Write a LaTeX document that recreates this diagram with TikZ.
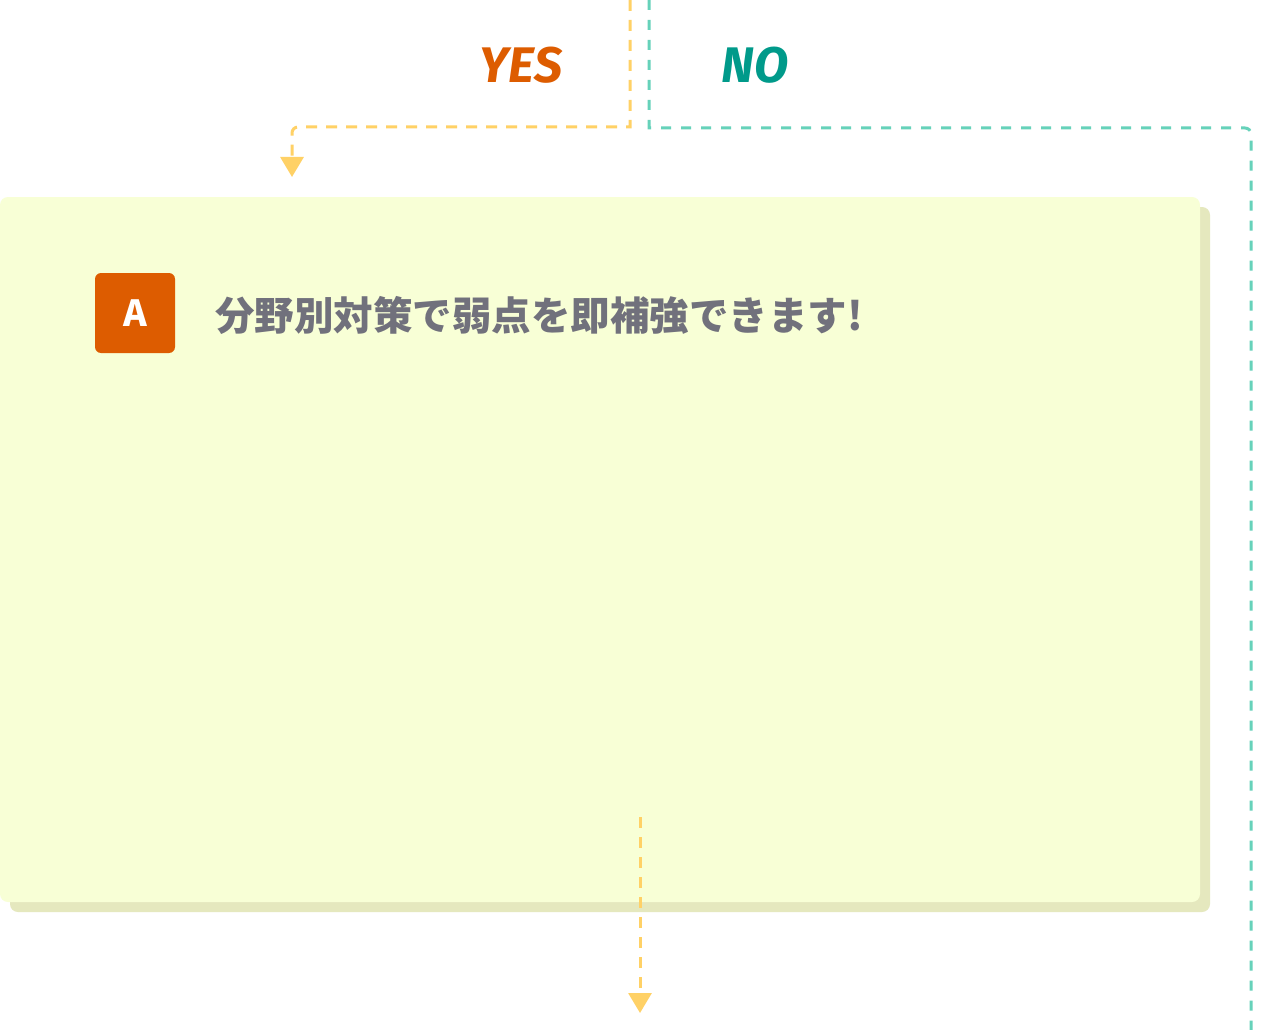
\documentclass[tikz,border=0pt]{standalone}
\usepackage{fontspec}
\setmainfont{Fira Sans}
\newfontfamily\jpfont{Noto Sans CJK JP}
\usetikzlibrary{arrows.meta}
\definecolor{cardbg}{HTML}{F8FFD6}
\definecolor{cardsh}{HTML}{E5E8BE}
\definecolor{orng}{HTML}{DD5C00}
\definecolor{tealtxt}{HTML}{009A8A}
\definecolor{tealln}{HTML}{66D2BA}
\definecolor{yelln}{HTML}{FFD166}
\definecolor{graytxt}{HTML}{71717C}
\tikzset{
  yline/.style={draw=yelln, line width=3pt, dash pattern=on 11pt off 9pt},
  tline/.style={draw=tealln, line width=3pt, dash pattern=on 10pt off 10pt},
  ytip/.style={-{Triangle[width=23pt,length=20pt,fill=yelln,color=yelln]}},
  cardbox/.style={fill=cardbg, rounded corners=8pt, minimum width=1200pt, minimum height=705pt, inner sep=0pt},
  shadowbox/.style={fill=cardsh, rounded corners=8pt, minimum width=1200pt, minimum height=705pt, inner sep=0pt},
  badge/.style={fill=orng, rounded corners=6pt, minimum width=80pt, minimum height=80pt, inner sep=0pt, text=white, font=\jpfont\bfseries\fontsize{36}{40}\selectfont},
  ynlabel/.style={font=\bfseries\itshape\fontsize{50}{56}\selectfont, inner sep=0pt},
  headline/.style={text=graytxt, font=\jpfont\bfseries\fontsize{39.5}{44}\selectfont, inner sep=0pt, anchor=west}
}
\begin{document}
\begin{tikzpicture}[x=1pt,y=-1pt]
\useasboundingbox[fill=white] (0,0) rectangle (1280,1030);
% card
\node[shadowbox] (shadow) at (610,559.5) {};
\node[cardbox] (card) at (600,549.5) {};
\node[badge] (badge) at (135,313) {A};
\node[headline] (head) at (215,315) {分野別対策で弱点を即補強できます!};
% labels
\node[ynlabel, text=orng] (yes) at (521,65) {YES};
\node[ynlabel, text=tealtxt] (no) at (755,65) {NO};
% connectors
\coordinate (ytop) at (630,0);
\coordinate (yend) at (292,177);
\coordinate (ttop) at (649,0);
\coordinate (tend) at (1251,1032);
\coordinate (ystart2) at (640,817);
\coordinate (yend2) at (640,1013);
\draw[yline, ytip] (ytop) -- (630,127) [rounded corners=6pt] -- (292,127) -- (yend);
\draw[tline] (ttop) -- (649,128) [rounded corners=6pt] -- (1251,128) -- (tend);
\draw[yline, ytip] (ystart2) -- (yend2);
\end{tikzpicture}
\end{document}
